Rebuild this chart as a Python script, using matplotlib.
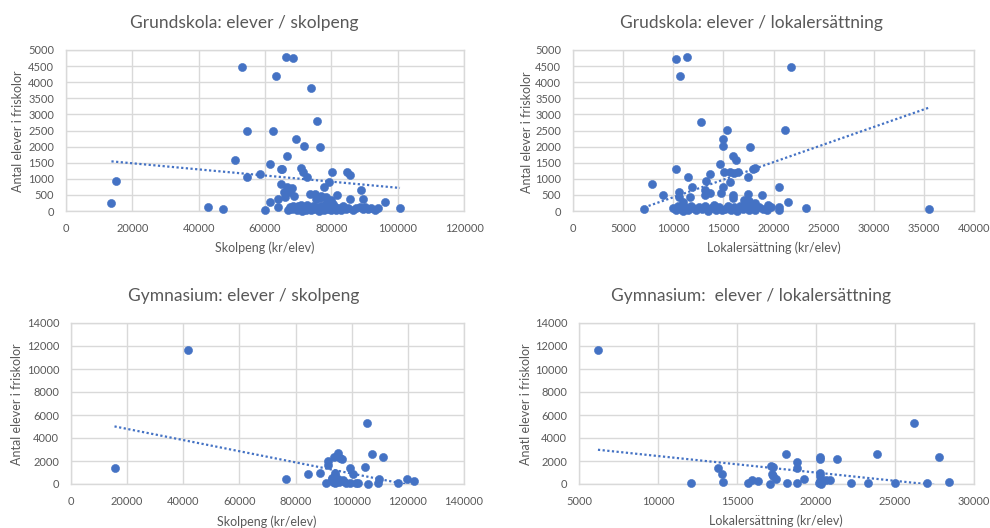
import numpy as np
import matplotlib
matplotlib.use("Agg")
import matplotlib.pyplot as plt
from matplotlib.ticker import FormatStrFormatter

plt.rcParams["font.family"] = ["Lato", "DejaVu Sans"]

BLUE = "#4472C4"
TEXT = "#595959"
GRID = "#D9D9D9"

# Grundskola: skolpeng (kr/elev) vs antal elever
gs_skolpeng = [13700, 15000, 42900, 47200, 50900, 53100, 54700, 54700, 58500, 60000,
               61500, 61500, 62500, 63400, 64000, 64000, 64700, 65200, 64900, 65700,
               66000, 66500, 66300, 66700, 67500, 68200, 68500, 68700, 69300, 70900,
               71500, 71800, 72800, 74000, 73600, 75100, 75300, 75800, 76600, 76500,
               77000, 77800, 78500, 79300, 80200, 78800, 79800, 80500, 81800, 84800,
               85600, 85600, 88900, 89600, 96200, 100700,
               66800, 67500, 68000, 68500, 69000, 69500, 70000, 70500, 71000, 71200,
               71800, 72300, 72800, 73200, 74000, 74600, 75200, 75800, 76300, 76800,
               77300, 77800, 78200, 78600, 79000, 79500, 80000, 80500, 81000, 81500,
               82300, 83000, 83600, 84300, 85000, 86500, 87500, 88500, 89500, 90300,
               91000, 92000, 93200, 94000]
gs_skolpeng_elever = [260, 930, 125, 70, 1570, 4460, 2500, 1060, 1160, 30,
                      1450, 270, 2500, 4190, 370, 125, 1315, 1300, 850, 600,
                      440, 1710, 4770, 750, 580, 720, 4750, 480, 2250, 1325,
                      1200, 2020, 1066, 3820, 530, 530, 380, 2780, 2000, 400,
                      470, 735, 430, 900, 1220, 300, 350, 220, 490, 1220,
                      1130, 360, 640, 360, 270, 100,
                      30, 120, 60, 150, 90, 20, 160, 60, 200, 10,
                      120, 40, 180, 90, 30, 140, 60, 110, 10, 170,
                      80, 30, 200, 110, 50, 160, 20, 90, 130, 40,
                      100, 20, 150, 60, 100, 30, 80, 130, 50, 120,
                      60, 100, 20, 80]

# Grundskola: lokalersättning (kr/elev) vs antal elever
gs_lokal = [7100, 7900, 9000, 10300, 11400, 10700, 10300, 10600, 11500, 11900,
            12800, 13700, 13300, 13200, 14700, 15000, 15000, 15400, 15100, 15000,
            14800, 15700, 16000, 16300, 15700, 16100, 16500, 17500, 17700, 18000,
            18200, 17500, 18900, 20500, 21100, 21700, 21400, 23200, 35500, 19500,
            20500, 20500, 13700, 13200, 16000, 16000, 17100, 17600, 17900, 18200,
            10600, 11000, 11700,
            10000, 10300, 10500, 10800, 11000, 11200, 11500, 11800, 12000, 12300,
            12600, 12900, 13200, 13500, 13800, 14100, 14300, 14600, 14900, 15200,
            15500, 15800, 16100, 16400, 16700, 17000, 17300, 17600, 17900, 18200,
            18600, 19000, 19400, 19800]
gs_lokal_elever = [60, 840, 487, 4730, 4770, 4190, 1315, 590, 1060, 736,
                   2775, 1140, 930, 640, 1450, 2230, 2030, 2506, 1200, 730,
                   560, 900, 1708, 1574, 1200, 1190, 1200, 1066, 1997, 1315,
                   1320, 530, 487, 736, 2506, 4460, 270, 104, 60, 186,
                   120, 20, 550, 497, 500, 400, 345, 300, 200, 250,
                   445, 290, 445,
                   100, 30, 150, 60, 10, 120, 40, 170, 80, 20,
                   130, 50, 160, 10, 90, 180, 40, 120, 20, 70,
                   150, 30, 110, 10, 170, 60, 130, 20, 90, 40,
                   130, 70, 30, 120]

# Gymnasium: skolpeng (kr/elev) vs antal elever
gy_skolpeng = [15500, 41600, 76500, 84500, 88600, 90800, 91700, 91700, 93800, 95200,
               94900, 95800, 96400, 94000, 94000, 92900, 93400, 94500, 94000, 95600,
               96800, 98000, 99400, 99400, 100500, 101500, 102300, 105500, 104800, 105900,
               107300, 109700, 109300, 111000, 116400, 119800, 122200, 93000, 95000, 97000]
gy_skolpeng_elever = [1394, 11618, 407, 860, 970, 60, 1990, 1620, 2324, 2667,
                      2400, 2260, 2178, 1000, 750, 405, 203, 350, 58, 203,
                      350, 116, 58, 1363, 870, 87, 87, 5278, 1507, 0,
                      2580, 405, 100, 2390, 58, 420, 220, 550, 450, 250]

# Gymnasium: lokalersättning (kr/elev) vs antal elever
gy_lokal = [6200, 12070, 13780, 14070, 14130, 15700, 15980, 16300, 17080, 17140,
            17250, 17200, 17250, 17460, 18080, 18140, 18780, 18780, 18780, 19240,
            20250, 20250, 21300, 20250, 20250, 20250, 20200, 20400, 20650, 20900,
            20300, 22200, 23300, 23880, 25000, 26220, 27000, 27800, 28440]
gy_lokal_elever = [11618, 58, 1391, 870, 145, 116, 350, 290, 0, 1597,
                   1452, 900, 660, 405, 2580, 58, 1942, 1363, 58, 435,
                   2377, 2145, 2174, 1000, 700, 290, 58, 290, 350, 350,
                   0, 116, 58, 2637, 58, 5278, 58, 2377, 203]

# linear trendlines (slope, intercept)
trend_gs_skolpeng = (-0.0095, 1672)
trend_gs_lokal = (0.1091, -664)
trend_gy_skolpeng = (-0.0485, 5760)
trend_gy_lokal = (-0.1437, 3869)

W, H = 990, 528
fig = plt.figure(figsize=(W / 100, H / 100), dpi=100)


def add_box(left, top, right, bottom):
    return fig.add_axes([left / W, 1 - bottom / H, (right - left) / W, (bottom - top) / H])


def put_text(x, y, s, size, rotation=0):
    fig.text(x / W, 1 - y / H, s, ha="center", va="center", fontsize=size,
             color=TEXT, rotation=rotation)


def draw_panel(ax, x, y, trend, xlim, xstep, ylim, ystep):
    ax.set_xlim(xlim)
    ax.set_ylim(ylim)
    ax.set_xticks(np.arange(xlim[0], xlim[1] + 1, xstep))
    ax.set_yticks(np.arange(ylim[0], ylim[1] + 1, ystep))
    ax.xaxis.set_major_formatter(FormatStrFormatter("%d"))
    ax.yaxis.set_major_formatter(FormatStrFormatter("%d"))
    ax.grid(True, color=GRID, lw=1)
    ax.set_axisbelow(True)
    for sp in ax.spines.values():
        sp.set_color(GRID)
        sp.set_linewidth(1)
    ax.tick_params(length=0, labelsize=8, colors=TEXT, pad=8.5)
    ax.scatter(x, y, s=34, color=BLUE, edgecolors=BLUE, linewidths=0.4,
               zorder=3, clip_on=False)
    xs = np.array([min(x), max(x)])
    ax.plot(xs, trend[0] * xs + trend[1], ls=(0, (1, 1.1)), lw=1.6,
            color=BLUE, zorder=4)


ax1 = add_box(66, 50, 464, 211)
draw_panel(ax1, gs_skolpeng, gs_skolpeng_elever, trend_gs_skolpeng,
           (0, 120000), 20000, (0, 5000), 500)
put_text(244, 23, "Grundskola: elever / skolpeng", 12.5)
put_text(265, 248, "Skolpeng (kr/elev)", 9)
put_text(18, 131, "Antal elever i friskolor", 9, rotation=90)

ax2 = add_box(573, 50, 974, 211)
draw_panel(ax2, gs_lokal, gs_lokal_elever, trend_gs_lokal,
           (0, 40000), 5000, (0, 5000), 500)
put_text(751, 23, "Grudskola: elever / lokalersättning", 12.5)
put_text(774, 248, "Lokalersättning (kr/elev)", 9)
put_text(527, 132, "Antal elever i friskolor", 9, rotation=90)

ax3 = add_box(71, 323, 464, 484)
draw_panel(ax3, gy_skolpeng, gy_skolpeng_elever, trend_gy_skolpeng,
           (0, 140000), 20000, (0, 14000), 2000)
put_text(244, 296, "Gymnasium: elever / skolpeng", 12.5)
put_text(267, 522, "Skolpeng (kr/elev)", 9)
put_text(17, 404, "Antal elever i friskolor", 9, rotation=90)

ax4 = add_box(579, 323, 974, 484)
draw_panel(ax4, gy_lokal, gy_lokal_elever, trend_gy_lokal,
           (5000, 30000), 5000, (0, 14000), 2000)
put_text(751, 296, "Gymnasium:  elever / lokalersättning", 12.5)
put_text(776, 521, "Lokalersättning (kr/elev)", 9)
put_text(526, 404, "Anatl elever i friskolor", 9, rotation=90)

fig.savefig("out.png", dpi=100, facecolor="white")
